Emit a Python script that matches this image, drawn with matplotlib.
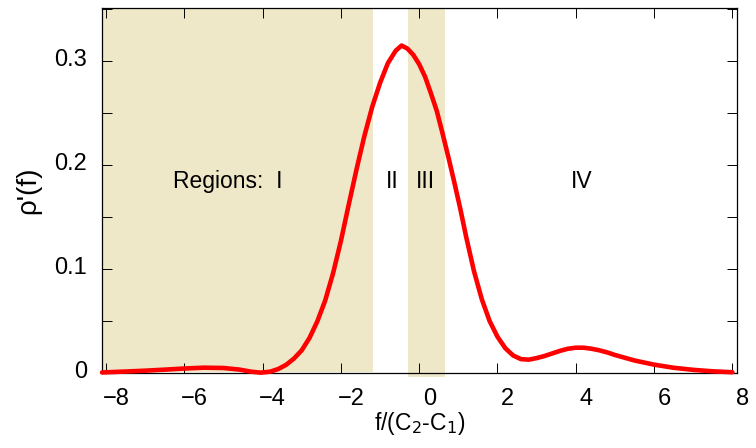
import matplotlib
matplotlib.use("Agg")
import matplotlib.pyplot as plt
import matplotlib.transforms as mtransforms
from matplotlib.ticker import MultipleLocator, FuncFormatter

plt.rcParams['font.family'] = ['Liberation Sans', 'DejaVu Sans']

# curve
f_vals = [-8.1, -7.5, -7.0, -6.5, -6.0, -5.5, -5.0, -4.6, -4.3, -4.05,
          -3.8, -3.6, -3.4, -3.2, -3.0, -2.8, -2.6, -2.4, -2.2, -2.0,
          -1.8, -1.6, -1.4, -1.2, -1.0, -0.8, -0.6, -0.45, -0.3, -0.15,
          0.0, 0.15, 0.3, 0.45, 0.6, 0.75, 0.9, 1.05, 1.2, 1.4,
          1.6, 1.8, 2.0, 2.2, 2.4, 2.6, 2.8, 3.0, 3.2, 3.4,
          3.6, 3.8, 4.0, 4.2, 4.4, 4.6, 4.8, 5.0, 5.5, 6.0,
          6.5, 7.0, 7.5, 8.0]
rho_vals = [0.0007, 0.0016, 0.0024, 0.0034, 0.0045, 0.0053, 0.0050, 0.0035, 0.0015, 0.0005,
            0.0015, 0.004, 0.008, 0.014, 0.022, 0.034, 0.050, 0.070, 0.096, 0.127,
            0.162, 0.196, 0.228, 0.256, 0.279, 0.298, 0.310, 0.315, 0.312, 0.306,
            0.297, 0.285, 0.269, 0.252, 0.230, 0.207, 0.183, 0.158, 0.131, 0.098,
            0.071, 0.050, 0.035, 0.024, 0.017, 0.0135, 0.013, 0.0145, 0.0165, 0.019,
            0.0215, 0.0235, 0.0245, 0.0245, 0.0235, 0.022, 0.020, 0.0175, 0.0122, 0.0082,
            0.0052, 0.0032, 0.0018, 0.0009]

# shaded regions (I and III)
region_I = (-8.1, -1.18)
region_III = (-0.29, 0.65)
region_labels = ["Regions:  I", "II", "III", "IV"]
label_x = [-6.28, -0.7, 0.15, 4.15]
label_y = 0.184

shade = '#EEE7C8'

fig = plt.figure(figsize=(7.56, 4.48), dpi=100)
ax = fig.add_axes([0.135, 0.167, 0.84, 0.815])

ax.axvspan(*region_I, ymin=0.004, ymax=1, color=shade, lw=0, zorder=0)
ax.axvspan(*region_III, ymin=-0.011, ymax=1, color=shade, lw=0, zorder=0,
           clip_on=False)

ax.plot(f_vals, rho_vals, color='#ff0000', lw=3.3, solid_capstyle='round',
        solid_joinstyle='round', zorder=3, clip_on=False)

ax.text(label_x[0], label_y, region_labels[0], fontsize=16.5, ha='left', va='center')
for lx, lab in zip(label_x[1:], region_labels[1:]):
    ax.text(lx, label_y, lab, fontsize=16.5, ha='center', va='center')

ax.set_xlim(-8.1, 8.12)
ax.set_ylim(0, 0.351)
ax.xaxis.set_major_locator(MultipleLocator(2))
ax.yaxis.set_major_locator(MultipleLocator(0.1))
ax.yaxis.set_minor_locator(MultipleLocator(0.05))
ax.yaxis.set_major_formatter(FuncFormatter(lambda v, p: "0" if abs(v) < 1e-9 else f"{v:.1f}"))
ax.xaxis.set_major_formatter(FuncFormatter(lambda v, p: f"{v:.0f}".replace('-', '\u2212')))

ax.tick_params(which='both', direction='in', top=True, right=True,
               length=7, width=0.7, labelsize=17)
ax.tick_params(axis='x', pad=11)
ax.tick_params(axis='y', pad=11)
for s in ax.spines.values():
    s.set_linewidth(0.9)

# labels in the original sit a bit right of / above their ticks
dx = mtransforms.ScaledTranslation(10 / 100, 0, fig.dpi_scale_trans)
for lab in ax.get_xticklabels():
    lab.set_transform(lab.get_transform() + dx)
dy = mtransforms.ScaledTranslation(0, 4 / 100, fig.dpi_scale_trans)
for lab in ax.get_yticklabels():
    lab.set_transform(lab.get_transform() + dy)

ax.set_xlabel("f/(C$_2$-C$_1$)", fontsize=16.5, labelpad=0)
ax.set_ylabel("\u03c1'(f)", fontsize=20, labelpad=9)

fig.savefig("out.png", dpi=100)
